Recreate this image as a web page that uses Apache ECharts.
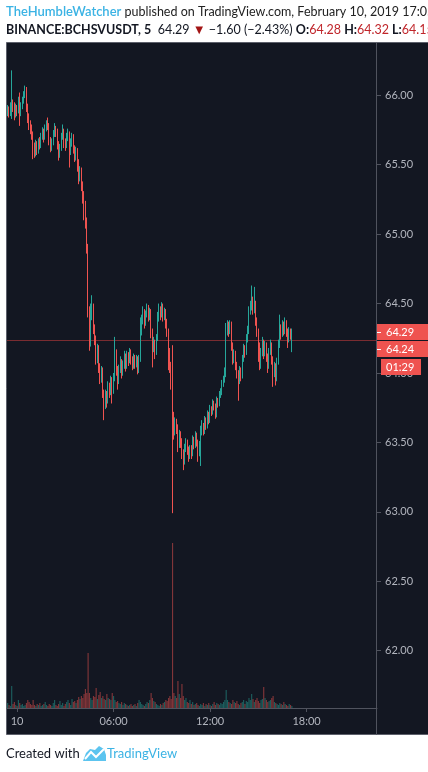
<!DOCTYPE html>
<html><head><meta charset="utf-8">
<script src="https://cdn.jsdelivr.net/npm/echarts@6/dist/echarts.min.js"></script>
<style>html,body{margin:0;padding:0;background:#fff;}#c{width:428px;height:772px;}</style>
</head><body><div id="c"></div>
<script>
// ---- data (5-minute candles, BINANCE:BCHSVUSDT) ----
const startMinutes = 23 * 60 + 25;   // first slot 23:25 (Feb 9)
const slotCount = 276;               // visible 5-minute slots
const opens = [
65.88,65.90,65.87,65.92,65.94,65.93,65.86,65.91,65.89,65.93,
65.87,65.92,65.96,66.01,66.04,65.92,65.85,65.79,65.76,65.72,
65.62,65.58,65.65,65.60,65.66,65.64,65.70,65.74,65.70,65.76,
65.80,65.78,65.68,65.62,65.66,65.72,65.76,65.74,65.65,65.58,
65.62,65.70,65.74,65.66,65.64,65.70,65.72,65.60,65.66,65.70,
65.62,65.55,65.60,65.52,65.42,65.46,65.36,65.28,65.22,65.10,
64.90,64.45,64.22,64.42,64.48,64.32,64.25,64.10,64.18,64.05,
63.96,64.02,63.86,63.78,63.84,63.80,63.90,63.86,63.95,63.88,
63.96,64.15,64.02,63.95,64.03,64.08,64.00,64.06,64.12,64.05,
64.13,64.09,64.15,64.10,64.05,64.11,64.06,64.10,64.03,64.10,
64.30,64.38,64.44,64.36,64.42,64.47,64.40,64.44,64.30,64.18,
64.22,64.15,64.25,64.40,64.46,64.42,64.48,64.40,64.44,64.36,
64.30,64.15,64.05,63.92,63.68,63.58,63.64,63.60,63.48,63.55,
63.50,63.42,63.36,63.45,63.50,63.44,63.40,63.45,63.42,63.52,
63.48,63.55,63.50,63.43,63.48,63.58,63.62,63.58,63.66,63.62,
63.70,63.66,63.74,63.72,63.78,63.76,63.70,63.80,63.78,63.84,
63.86,63.92,63.95,64.00,64.30,64.35,64.30,64.36,64.20,64.10,
64.14,64.06,64.00,63.94,64.02,63.98,64.10,64.18,64.15,64.25,
64.30,64.45,64.48,64.52,64.45,64.50,64.38,64.30,64.20,64.05,
64.15,64.22,64.14,64.20,64.12,64.05,64.15,64.20,64.10,64.00,
64.05,63.96,64.08,64.20,64.32,64.28,64.35,64.30,64.36,64.30,
64.24,64.30,64.28];
const closes = [
65.90,65.87,65.92,65.94,65.93,65.86,65.91,65.89,65.93,65.87,
65.92,65.96,66.01,66.04,65.92,65.85,65.79,65.76,65.72,65.62,
65.58,65.65,65.60,65.66,65.64,65.70,65.74,65.70,65.76,65.80,
65.78,65.68,65.62,65.66,65.72,65.76,65.74,65.65,65.58,65.62,
65.70,65.74,65.66,65.64,65.70,65.72,65.60,65.66,65.70,65.62,
65.55,65.60,65.52,65.42,65.46,65.36,65.28,65.22,65.10,64.90,
64.45,64.22,64.42,64.48,64.32,64.25,64.10,64.18,64.05,63.96,
64.02,63.86,63.78,63.84,63.80,63.90,63.86,63.95,63.88,63.96,
64.15,64.02,63.95,64.03,64.08,64.00,64.06,64.12,64.05,64.13,
64.09,64.15,64.10,64.05,64.11,64.06,64.10,64.03,64.10,64.30,
64.38,64.44,64.36,64.42,64.47,64.40,64.44,64.30,64.18,64.22,
64.15,64.25,64.40,64.46,64.42,64.48,64.40,64.44,64.36,64.30,
64.15,64.05,63.92,63.68,63.58,63.64,63.60,63.48,63.55,63.50,
63.42,63.36,63.45,63.50,63.44,63.40,63.45,63.42,63.52,63.48,
63.55,63.50,63.43,63.48,63.58,63.62,63.58,63.66,63.62,63.70,
63.66,63.74,63.72,63.78,63.76,63.70,63.80,63.78,63.84,63.86,
63.92,63.95,64.00,64.30,64.35,64.30,64.36,64.20,64.10,64.14,
64.06,64.00,63.94,64.02,63.98,64.10,64.18,64.15,64.25,64.30,
64.45,64.48,64.52,64.45,64.50,64.38,64.30,64.20,64.05,64.15,
64.22,64.14,64.20,64.12,64.05,64.15,64.20,64.10,64.00,64.05,
63.96,64.08,64.20,64.32,64.28,64.35,64.30,64.36,64.30,64.24,
64.30,64.28,64.29];
const highs = [
65.93,65.92,65.95,66.18,65.97,65.95,65.94,65.93,65.99,66.02,
65.95,65.99,66.03,66.07,66.06,65.94,65.87,65.82,65.79,65.74,
65.66,65.68,65.67,65.69,65.70,65.73,65.77,65.76,65.79,65.82,
65.84,65.80,65.70,65.69,65.75,65.80,65.78,65.76,65.67,65.65,
65.73,65.79,65.76,65.69,65.73,65.76,65.74,65.69,65.73,65.72,
65.64,65.63,65.62,65.54,65.49,65.48,65.38,65.31,65.24,65.12,
64.93,64.48,64.50,64.56,64.50,64.35,64.27,64.21,64.20,64.07,
64.05,64.04,63.88,63.88,63.87,63.94,63.93,63.98,63.97,64.00,
64.26,64.17,64.05,64.06,64.12,64.10,64.09,64.16,64.14,64.16,
64.15,64.18,64.17,64.12,64.14,64.13,64.13,64.12,64.13,64.40,
64.42,64.48,64.46,64.45,64.50,64.49,64.47,64.46,64.32,64.26,
64.24,64.28,64.44,64.50,64.48,64.51,64.50,64.47,64.46,64.39,
64.32,64.18,64.08,64.20,63.72,63.68,63.67,63.63,63.59,63.58,
63.53,63.45,63.49,63.53,63.52,63.47,63.48,63.48,63.55,63.54,
63.58,63.57,63.52,63.51,63.62,63.66,63.64,63.69,63.68,63.73,
63.72,63.77,63.76,63.81,63.80,63.78,63.83,63.82,63.87,63.89,
63.95,63.98,64.04,64.36,64.38,64.37,64.38,64.37,64.22,64.17,
64.16,64.08,64.02,64.05,64.04,64.13,64.21,64.20,64.28,64.34,
64.48,64.52,64.63,64.55,64.62,64.52,64.40,64.32,64.22,64.18,
64.26,64.24,64.23,64.22,64.14,64.18,64.24,64.22,64.12,64.08,
64.07,64.11,64.24,64.42,64.35,64.38,64.37,64.40,64.38,64.32,
64.33,64.32,64.32];
const lows = [
65.85,65.84,65.85,65.83,65.88,65.82,65.84,65.85,65.87,65.78,
65.85,65.90,65.94,65.98,65.88,65.80,65.75,65.72,65.68,65.54,
65.55,65.56,65.57,65.58,65.61,65.62,65.68,65.66,65.68,65.74,
65.75,65.64,65.59,65.60,65.64,65.70,65.70,65.61,65.53,65.55,
65.60,65.68,65.62,65.60,65.62,65.67,65.48,65.57,65.63,65.58,
65.52,65.53,65.45,65.36,65.38,65.31,65.22,65.10,65.04,64.86,
64.40,64.16,64.19,64.38,64.28,64.20,64.06,64.07,64.00,63.92,
63.93,63.82,63.66,63.74,63.75,63.78,63.82,63.84,63.78,63.85,
63.94,63.98,63.88,63.92,64.00,63.96,63.98,64.03,64.01,64.03,
64.05,64.07,64.06,64.02,64.03,64.03,64.04,63.99,64.00,64.08,
64.27,64.35,64.32,64.34,64.40,64.37,64.38,64.25,64.04,64.15,
64.10,64.13,64.23,64.37,64.38,64.40,64.37,64.38,64.32,64.26,
64.02,64.00,63.88,62.99,63.52,63.55,63.56,63.43,63.46,63.46,
63.38,63.30,63.34,63.43,63.41,63.36,63.38,63.38,63.40,63.45,
63.46,63.47,63.36,63.40,63.33,63.55,63.55,63.56,63.59,63.60,
63.63,63.64,63.69,63.70,63.73,63.67,63.68,63.75,63.76,63.82,
63.84,63.90,63.93,63.97,64.27,64.26,64.28,64.16,64.06,64.07,
64.02,63.96,63.80,63.92,63.94,63.96,64.08,64.11,64.13,64.22,
64.28,64.42,64.45,64.42,64.43,64.34,64.26,64.08,64.02,64.03,
64.12,64.10,64.12,64.08,64.00,64.03,64.13,64.06,63.90,63.97,
63.91,63.94,64.06,64.18,64.24,64.26,64.27,64.28,64.26,64.18,
64.22,64.24,64.15];
const volumes = [
150,90,60,660,120,180,90,60,240,150,
90,120,60,90,150,240,180,120,90,240,
90,60,120,90,150,60,90,120,180,90,
60,120,90,60,150,240,90,60,120,210,
90,150,60,120,180,240,150,90,270,180,
210,150,240,330,270,360,300,420,570,450,
1650,450,300,240,360,330,600,270,390,480,
300,360,270,240,420,300,270,240,450,360,
240,180,210,150,120,180,90,150,120,90,
60,90,120,60,90,120,60,150,240,180,
120,90,60,120,180,150,240,450,300,210,
180,120,90,60,120,90,150,180,240,210,
300,360,270,4950,450,360,300,810,420,300,
720,360,240,300,180,150,240,120,180,90,
120,150,90,60,120,90,150,60,120,90,
150,90,60,120,180,90,150,120,90,150,
120,180,240,540,240,180,150,120,240,180,
150,210,120,90,150,180,240,120,210,180,
300,240,420,270,180,240,300,210,150,240,
270,630,300,240,180,210,240,300,360,180,
150,120,90,150,120,90,180,120,90,60,
120,90,60];
const priceMin = 61.5, priceMax = 66.377, priceStep = 0.5;
const volumeMax = 4950;
const markedPrice = 64.24;
const timeTickLabels = {'00:00': '10', '06:00': '06:00', '12:00': '12:00', '18:00': '18:00'};

// ---- build ----
const categories = [];
for (let k = 0; k < slotCount; k++) {
  const t = (startMinutes + 5 * k) % 1440;
  categories.push(String(Math.floor(t / 60)).padStart(2, '0') + ':' + String(t % 60).padStart(2, '0'));
}
const UP = '#26a69a', DOWN = '#ef5350';
const candles = opens.map((o, i) => [o, closes[i], lows[i], highs[i]]);
const volData = volumes.map((v, i) => ({
  value: v,
  itemStyle: { color: closes[i] >= opens[i] ? 'rgba(38,166,154,0.5)' : 'rgba(239,83,80,0.5)' }
}));
const isTimeTick = (idx, val) => Object.prototype.hasOwnProperty.call(timeTickLabels, val);

const chart = echarts.init(document.getElementById('c'), null, { renderer: 'canvas' });
const AXIS = '#50535e', TXT = '#b2b5be';
const F = 'Lato, "Noto Sans", sans-serif';
const baseGraphics = [
    { id: 'bg', type: 'rect', z: -10, shape: { x: 6.5, y: 42.5, width: 430, height: 692 },
      style: { fill: '#131722', stroke: '#5d606b', lineWidth: 1 } },
    { id: 'sep', type: 'line', z: 5, shape: { x1: 376.5, y1: 43, x2: 376.5, y2: 735 }, style: { stroke: AXIS, lineWidth: 1 } },
    { type: 'rect', z: 20, shape: { x: 377, y: 324, width: 51, height: 16 }, style: { fill: '#ef5350' } },
    { type: 'line', z: 21, shape: { x1: 377, y1: 332.5, x2: 381, y2: 332.5 }, style: { stroke: '#fff', lineWidth: 1 } },
    { type: 'text', z: 21, x: 386, y: 332, style: { text: '64.29', fill: '#fff', font: '11px ' + F, verticalAlign: 'middle' } },
    { type: 'rect', z: 20, shape: { x: 377, y: 341, width: 51, height: 16 }, style: { fill: '#ef5350' } },
    { type: 'line', z: 21, shape: { x1: 377, y1: 349.5, x2: 381, y2: 349.5 }, style: { stroke: '#fff', lineWidth: 1 } },
    { type: 'text', z: 21, x: 386, y: 349, style: { text: '64.24', fill: '#fff', font: '11px ' + F, verticalAlign: 'middle' } },
    { type: 'rect', z: 20, shape: { x: 381, y: 359, width: 40, height: 16 }, style: { fill: '#ef5350' } },
    { type: 'text', z: 21, x: 386, y: 367, style: { text: '01:29', fill: '#fff', font: '11px ' + F, verticalAlign: 'middle' } },
    { type: 'text', z: 30, x: 6, y: 12, style: {
      text: '{a|TheHumbleWatcher}{b| published on TradingView.com, February 10, 2019 17:05 UTC}',
      verticalAlign: 'middle',
      rich: { a: { fill: '#3bb3e4', font: '600 13px ' + F }, b: { fill: '#222', font: '12.5px ' + F } } } },
    { type: 'text', z: 30, x: 6, y: 30, style: {
      text: '{k|BINANCE:BCHSVUSDT, 5}{n|  64.29 }{r|▼}{n| −1.60 (−2.43%) }{k|O:}{v|64.28}{k| H:}{v|64.32}{k| L:}{v|64.15}{k| C:}{v|64.29}',
      verticalAlign: 'middle',
      rich: { k: { fill: '#131722', font: 'bold 12.5px ' + F }, n: { fill: '#131722', font: '12.5px ' + F },
        r: { fill: '#a31515', font: '13px ' + F }, v: { fill: '#c0262b', font: '12.5px ' + F } } } },
    { type: 'text', z: 30, x: 6, y: 754, style: { text: 'Created with', fill: '#131722', font: '13px ' + F, verticalAlign: 'middle' } },
    { type: 'polygon', z: 30, shape: { points: [[83,761],[86,753],[90,749],[95,750],[99,746],[104,749],[106,755],[106,761]] },
      style: { fill: '#5cc4ef' } },
    { type: 'polyline', z: 31, shape: { points: [[85,759],[91,752],[96,757],[104,749]] },
      style: { stroke: '#ffffff', lineWidth: 2, fill: null } },
    { type: 'text', z: 30, x: 107, y: 754, style: { text: 'TradingView', fill: '#3bb3e4', font: '13px ' + F, verticalAlign: 'middle' } }
];
chart.setOption({
  backgroundColor: '#ffffff',
  animation: false,
  grid: [
    { left: 7, right: 51, top: 43, bottom: 52 },
    { left: 7, right: 51, top: 543, bottom: 64 }
  ],
  xAxis: [
    { type: 'category', data: categories, gridIndex: 0, show: false },
    { type: 'category', data: categories, gridIndex: 1,
      axisLine: { show: true, lineStyle: { color: AXIS, width: 1 } },
      axisTick: { show: true, alignWithLabel: true, interval: isTimeTick, length: 4, lineStyle: { color: AXIS } },
      axisLabel: { interval: isTimeTick, formatter: v => timeTickLabels[v] || '', color: TXT, fontSize: 11, fontFamily: F, margin: 8 },
      splitLine: { show: false } }
  ],
  yAxis: [
    { type: 'value', gridIndex: 0, position: 'right', min: priceMin, max: priceMax, interval: priceStep,
      axisLine: { show: false },
      axisTick: { show: true, length: 4, lineStyle: { color: AXIS } },
      axisLabel: { showMinLabel: false, showMaxLabel: false, color: TXT, fontSize: 11, fontFamily: F, margin: 8,
        formatter: v => v.toFixed(2) },
      splitLine: { show: false } },
    { type: 'value', gridIndex: 1, min: 0, max: volumeMax, show: false }
  ],
  series: [
    { type: 'bar', xAxisIndex: 1, yAxisIndex: 1, data: volData, barCategoryGap: '15%', z: 1 },
    { type: 'candlestick', xAxisIndex: 0, yAxisIndex: 0, data: candles, barWidth: 1.2,
      itemStyle: { color: UP, color0: DOWN, borderColor: UP, borderColor0: DOWN, borderWidth: 1 }, z: 3 }
  ],
  graphic: baseGraphics
});
// price line at the marked price, positioned through the price axis scale
const yLine = Math.round(chart.convertToPixel({ yAxisIndex: 0 }, markedPrice)) + 0.5;
chart.setOption({
  graphic: baseGraphics.concat([
    { type: 'line', z: 2, shape: { x1: 7, y1: yLine, x2: 376, y2: yLine },
      style: { stroke: '#7a2c31', lineWidth: 1 } }
  ])
});
</script></body></html>
